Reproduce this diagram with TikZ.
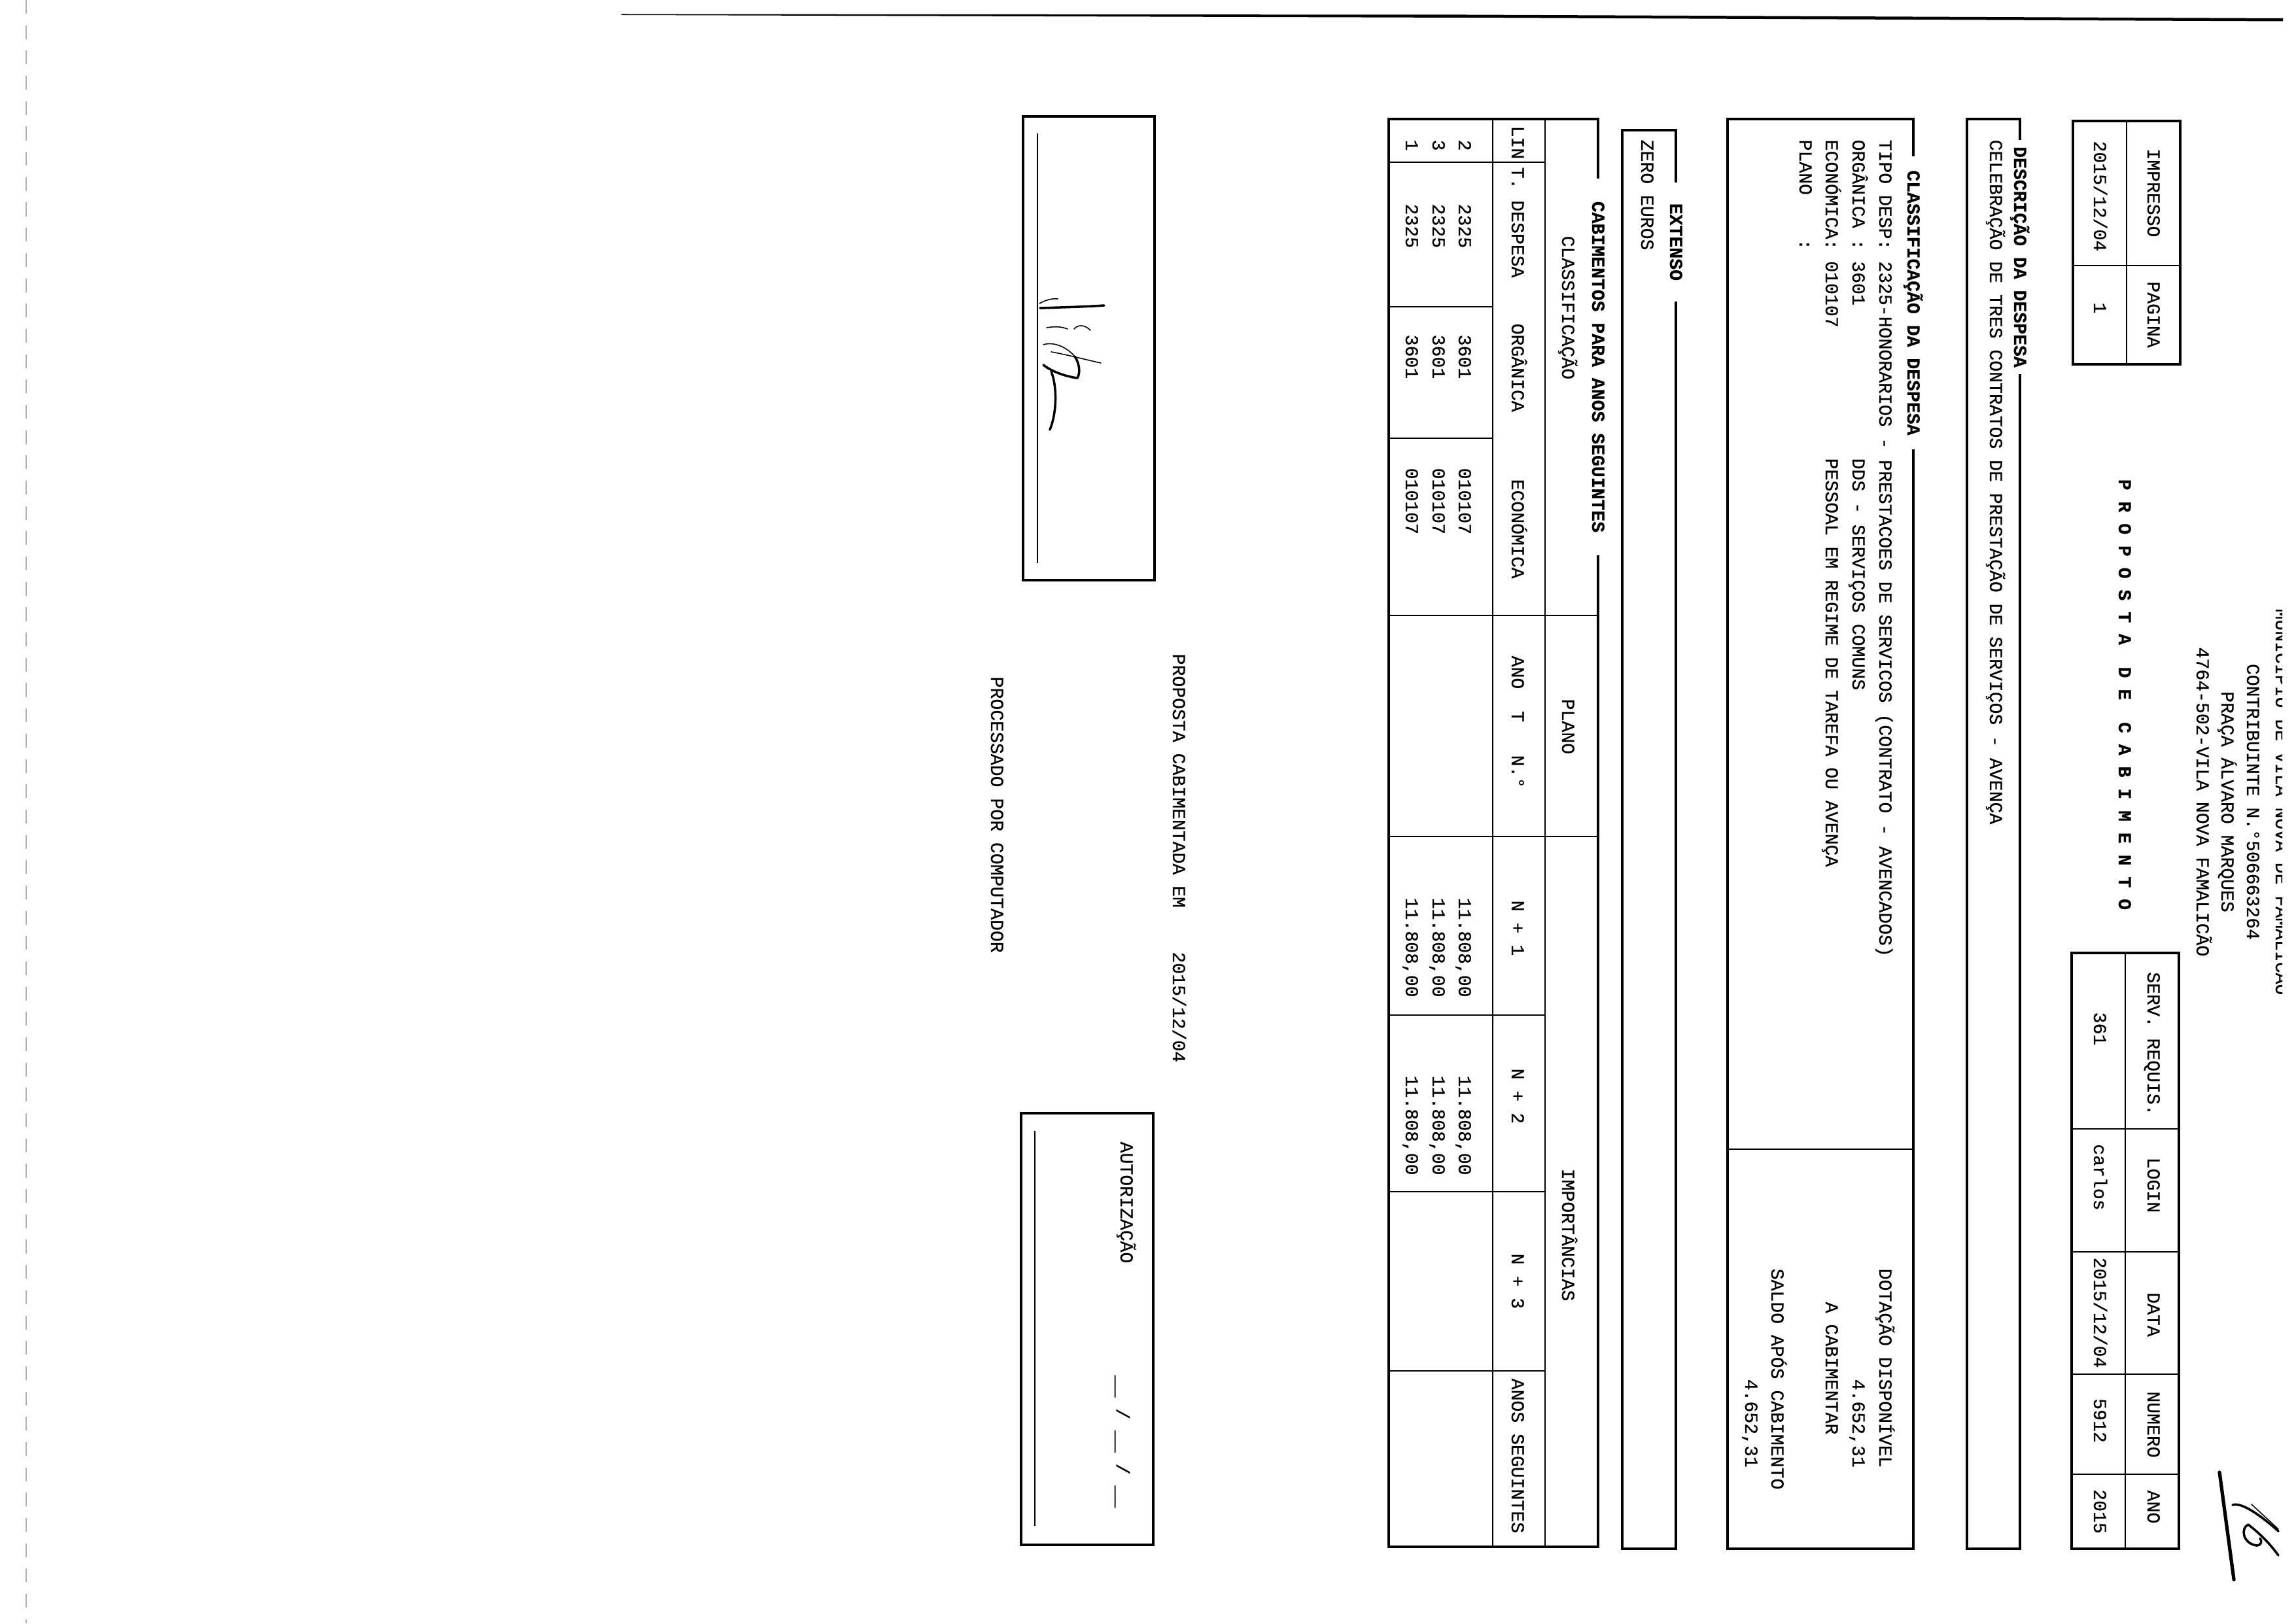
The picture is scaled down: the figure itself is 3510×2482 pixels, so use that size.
\documentclass[tikz,border=0pt]{standalone}
\usepackage{fontspec}
\newfontfamily\mono[FakeBold=0.5]{Liberation Mono}
\newcommand\docfont{\mono\fontsize{8pt}{11.67pt}\selectfont}
\begin{document}
\begin{tikzpicture}[x=0.01cm,y=-0.01cm,
  box/.style={line width=1pt},
  rule/.style={line width=0.6pt},
  tl/.style={rotate=-90,anchor=base west,inner sep=0pt,font=\docfont},
  tc/.style={rotate=-90,anchor=base,inner sep=0pt,font=\docfont},
  ttl/.style={rotate=-90,anchor=base,inner ysep=1.5pt,fill=white,font=\docfont\bfseries},
  sig/.style={line width=1pt,line cap=round,line join=round},
  sigthin/.style={line width=0.45pt,line cap=round}]
\fill[white] (0,0) rectangle (3510,2482);
\useasboundingbox (0,0) rectangle (3510,2482);
% scan artefacts
\fill[black] (950,21.5) -- (2240,22.5) -- (3490,28) -- (3490,32.5) -- (2240,27) -- (950,23) -- cycle;
\draw[gray!60,line width=0.4pt,dash pattern=on 6pt off 5pt] (40,0) -- (40,2482);
% header
\begin{scope}
\clip (3300,0) rectangle (3489,2482);
\node[tc] (hdr1) at (3479,1226) {MUNICÍPIO DE VILA NOVA DE FAMALICÃO};
\end{scope}
\node[tc] (hdr2) at (3435,1226) {CONTRIBUINTE N.°506663264};
\node[tc] (hdr3) at (3396,1226) {PRAÇA ÁLVARO MARQUES};
\node[tc] (hdr4) at (3358,1226) {4764-502-VILA NOVA FAMALICÃO};
\node[tl,font=\docfont\bfseries] (title) at (3239,732) {P R O P O S T A~~D E~~C A B I M E N T O};
% IMPRESSO box
\draw[box] (3169,185) rectangle (3333,557);
\draw[rule] (3251,185) -- (3251,557);
\draw[rule] (3169,406) -- (3333,406);
\node[tc] (imp) at (3283,295) {IMPRESSO};
\node[tc] (impv) at (3201,300) {2015/12/04};
\node[tc] (pag) at (3283,481) {PAGINA};
\node[tc] (pagv) at (3201,471) {1};
% SERV box
\draw[box] (3167,1457) rectangle (3331,2368);
\draw[rule] (3249,1457) -- (3249,2368);
\foreach \yy in {1726,1914,2101,2254} \draw[rule] (3167,\yy) -- (3331,\yy);
\node[tc] (serv) at (3283,1596) {SERV. REQUIS.};
\node[tc] (servv) at (3201,1573) {361};
\node[tc] (login) at (3283,1812) {LOGIN};
\node[tc] (loginv) at (3201,1800) {carlos};
\node[tc] (data) at (3283,2010) {DATA};
\node[tc] (datav) at (3201,2007) {2015/12/04};
\node[tc] (num) at (3283,2178) {NUMERO};
\node[tc] (numv) at (3201,2172) {5912};
\node[tc] (ano) at (3283,2304) {ANO};
\node[tc] (anov) at (3201,2311) {2015};
% DESCRICAO box
\draw[box] (3007,182) rectangle (3088,2368);
\node[ttl,inner xsep=3pt] (desct) at (3079,393) {DESCRIÇÃO DA DESPESA};
\node[tl] (desc) at (3042,213) {CELEBRAÇÃO DE TRES CONTRATOS DE PRESTAÇÃO DE SERVIÇOS - AVENÇA};
% CLASSIFICACAO box
\draw[box] (2641,182) rectangle (2925,2368);
\draw[rule] (2641,1757) -- (2925,1757);
\node[ttl,inner xsep=6pt] (clt) at (2916,463) {CLASSIFICAÇÃO DA DESPESA};
\node[tl] (cl1) at (2873,213) {TIPO DESP: 2325-HONORARIOS - PRESTACOES DE SERVICOS (CONTRATO - AVENCADOS)};
\node[tl] (cl2) at (2832,213) {ORGÂNICA : 3601};
\node[tl] (cl2b) at (2832,700) {DDS - SERVIÇOS COMUNS};
\node[tl] (cl3) at (2791,213) {ECONÓMICA: 010107};
\node[tl] (cl3b) at (2791,700) {PESSOAL EM REGIME DE TAREFA OU AVENÇA};
\node[tl] (cl4) at (2751,213) {PLANO~~~~:};
\node[tl] (dot1) at (2873,1939) {DOTAÇÃO DISPONÍVEL};
\node[tl] (dot2) at (2832,2108) {4.652,31};
\node[tl] (dot3) at (2791,1990) {A CABIMENTAR};
\node[tl] (dot4) at (2708,1939) {SALDO APÓS CABIMENTO};
\node[tl] (dot5) at (2668,2108) {4.652,31};
% EXTENSO box
\draw[box] (2480,199) rectangle (2562,2368);
\node[ttl,inner xsep=9pt] (ext) at (2553,370) {EXTENSO};
\node[tl] (extv) at (2509,213) {ZERO EUROS};
% CABIMENTOS table
\draw[box] (2123,182) rectangle (2443,2365);
\draw[rule] (2362,182) -- (2362,2365);
\draw[rule] (2282,182) -- (2282,2365);
\draw[rule] (2123,248) -- (2362,248);
\draw[rule] (2123,469) -- (2282,469);
\draw[rule] (2123,670) -- (2282,670);
\draw[rule] (2123,941) -- (2443,941);
\draw[rule] (2123,1279) -- (2443,1279);
\foreach \yy in {1552,1822,2096} \draw[rule] (2123,\yy) -- (2362,\yy);
\node[ttl,inner xsep=10pt] (cabt) at (2434,561) {CABIMENTOS PARA ANOS SEGUINTES};
\node[tl] (g1) at (2388,360) {CLASSIFICAÇÃO};
\node[tl] (g2) at (2388,1068) {PLANO};
\node[tl] (g3) at (2388,1786) {IMPORTÂNCIAS};
\node[tl] (h1) at (2311,192) {LIN};
\node[tl] (h2) at (2311,255) {T. DESPESA};
\node[tl] (h3) at (2311,494) {ORGÂNICA};
\node[tl] (h4) at (2311,732) {ECONÓMICA};
\node[tl] (h5) at (2311,1002) {ANO~~T~~~N.°};
\node[tl] (h6) at (2311,1376) {N + 1};
\node[tl] (h7) at (2311,1633) {N + 2};
\node[tl] (h8) at (2311,1916) {N + 3};
\node[tl] (h9) at (2311,2107) {ANOS SEGUINTES};
\foreach \xx/\ll [count=\i] in {2230/2,2190/3,2149/1}{
  \node[tl] (r\i a) at (\xx,213) {\ll};
  \node[tl] (r\i b) at (\xx,311) {2325};
  \node[tl] (r\i c) at (\xx,511) {3601};
  \node[tl] (r\i d) at (\xx,715) {010107};
  \node[tl] (r\i e) at (\xx,1372) {11.808,00};
  \node[tl] (r\i f) at (\xx,1644) {11.808,00};
}
% footer texts
\node[tl] (pcab) at (1793,999) {PROPOSTA CABIMENTADA EM~~~~2015/12/04};
\node[tl] (proc) at (1515,1034) {PROCESSADO POR COMPUTADOR};
% signature box
\draw[box] (1564,178) rectangle (1765,887);
\draw[rule] (1586,204) -- (1586,861);
\draw[sig] (1590,471) .. controls (1620,470) and (1660,469) .. (1688,467);
\draw[sigthin] (1589,464) .. controls (1600,458) and (1610,456) .. (1617,457);
\draw[sigthin] (1600,501) .. controls (1612,499) and (1622,499) .. (1632,503);
\draw[sigthin] (1642,503) .. controls (1648,496) and (1658,496) .. (1667,505);
\draw[sigthin] (1595,527) .. controls (1610,522) and (1630,530) .. (1643,545);
\draw[sigthin] (1607,538) .. controls (1630,542) and (1660,550) .. (1683,555);
\draw[sig] (1595,558) .. controls (1605,566) and (1625,575) .. (1647,578) .. controls (1652,570) and (1650,555) .. (1643,545);
\draw[sig] (1607,568) .. controls (1616,590) and (1616,630) .. (1605,657);
% autorizacao box
\draw[box] (1561,1702) rectangle (1763,2362);
\draw[rule] (1582,1729) -- (1582,2333);
\node[tl] (aut) at (1713,1745) {AUTORIZAÇÃO};
\node[tl] (autd) at (1707,2102) {\_\_ / \_\_ / \_\_};
% handwritten 16
\draw[line width=1.5pt,line cap=round] (3393,2251) -- (3415,2415);
\draw[sig] (3413,2301) .. controls (3427,2296) and (3457,2318) .. (3483,2341);
\draw[sigthin] (3442,2300) -- (3483,2338);
\draw[sig] (3437,2331) .. controls (3425,2336) and (3428,2360) .. (3450,2363) .. controls (3458,2362) and (3458,2356) .. (3455,2352);
\draw[sig] (3437,2331) .. controls (3455,2345) and (3470,2360) .. (3483,2378);
\end{tikzpicture}
\end{document}
